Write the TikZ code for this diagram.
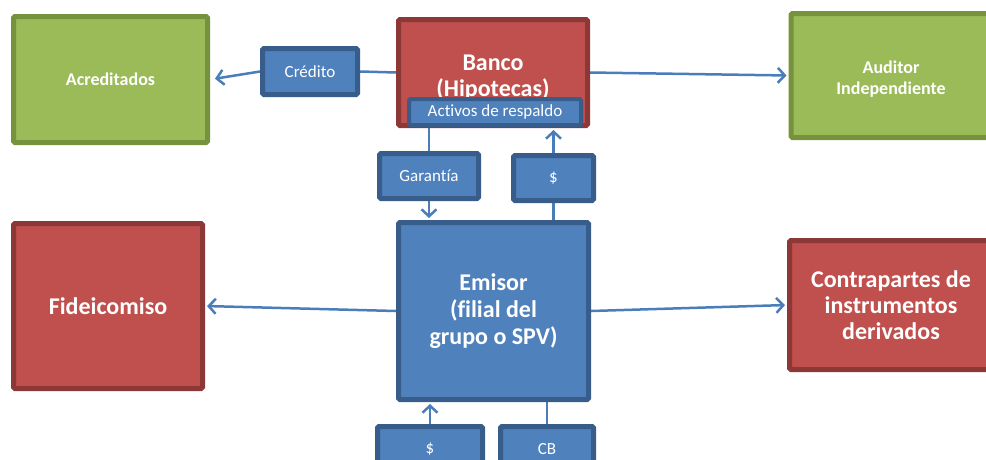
\documentclass[tikz,border=0pt]{standalone}
\usepackage{fontspec}
\setmainfont{Carlito}[Ligatures=NoCommon]
\usetikzlibrary{arrows.meta, backgrounds}

\definecolor{grnfill}{HTML}{9BBB59}
\definecolor{grnline}{HTML}{76923C}
\definecolor{redfill}{HTML}{C0504D}
\definecolor{redline}{HTML}{8C3836}
\definecolor{blufill}{HTML}{4F81BD}
\definecolor{bluline}{HTML}{385D8A}
\definecolor{linkcol}{HTML}{4A7EBB}

\begin{document}
\begin{tikzpicture}[x=1pt, y=-1pt,
    box/.style={draw, line width=5pt, rounded corners=1.5pt, text=white, align=center, inner sep=0pt},
    grnbox/.style={box, fill=grnfill, draw=grnline, font=\bfseries\fontsize{18}{21}\selectfont},
    redbox/.style={box, fill=redfill, draw=redline, font=\bfseries\fontsize{24}{26}\selectfont},
    blubig/.style={box, fill=blufill, draw=bluline, font=\bfseries\fontsize{24}{27}\selectfont},
    tag/.style={box, fill=blufill, draw=bluline, font=\fontsize{17}{20}\selectfont},
    link/.style={draw=linkcol, line width=2.5pt},
    arr/.style={link, -{Straight Barb[length=7pt, width=15pt]}, shorten >=2pt}]
    \useasboundingbox (0,0) rectangle (986,459);
    \clip (0,0) rectangle (986,459);

    % Top row
    \node[grnbox, minimum width=194pt, minimum height=126pt] (acred) at (110.5,79.5) {Acreditados};
    \node[tag, minimum width=95pt, minimum height=46pt] (credito) at (310,71.5) {Crédito};
    \node[redbox, minimum width=189pt, minimum height=106pt] (banco) at (493,72.5) {\rule{0pt}{26pt}Banco\\(Hipotecas)};
    \node[tag, line width=4pt, minimum width=172pt, minimum height=26pt] (activos) at (495,112) {Activos de respaldo};
    \node[grnbox, minimum width=200pt, minimum height=124pt] (auditor) at (891,75.5) {\rule{0pt}{19pt}Auditor\\Independiente};

    % Middle row
    \node[tag, minimum width=99pt, minimum height=45pt] (garantia) at (429,176) {Garantía};
    \node[tag, minimum width=80pt, minimum height=45pt] (pagoA) at (553.5,178) {\$};
    \node[redbox, minimum width=189pt, minimum height=165pt] (fideicomiso) at (108,306) {Fideicomiso};
    \node[blubig, minimum width=190pt, minimum height=177pt] (emisor) at (493.5,311) {Emisor\\(filial del\\grupo o SPV)};
    \node[redbox, minimum width=203pt, minimum height=129pt] (contra) at (891,305) {Contrapartes de\\instrumentos\\derivados};

    % Bottom row
    \node[tag, minimum width=105pt, minimum height=45pt] (pagoB) at (430,449) {\$};
    \node[tag, minimum width=93pt, minimum height=45pt] (cb) at (547,449) {CB};

    % Connectors
    \begin{scope}[on background layer]
        \draw[link] (banco.west) -- (credito.east);
        \draw[arr, shorten >=5pt] (credito.west) -- (acred.east);
        \draw[arr] (banco.east) -- (auditor.west);
        \draw[link] (garantia.north |- banco.south) -- (garantia.north);
        \draw[arr] (garantia.south) -- (garantia.south |- emisor.north);
        \draw[link] (pagoA.south |- emisor.north) -- (pagoA.south);
        \draw[arr] (pagoA.north) -- (pagoA.north |- banco.south);
        \draw[arr] (emisor.west) -- (fideicomiso.east);
        \draw[arr] (emisor.east) -- (contra.west);
        \draw[arr] (pagoB.north) -- (pagoB.north |- emisor.south);
        \draw[link] (cb.north) -- (cb.north |- emisor.south);
    \end{scope}
\end{tikzpicture}
\end{document}
